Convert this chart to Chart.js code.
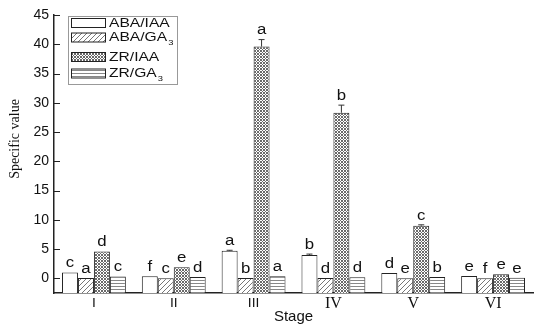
<!DOCTYPE html>
<html>
<head>
<meta charset="utf-8">
<script src="https://cdn.jsdelivr.net/npm/chart.js@4"></script>
<style>
  body { margin: 0; background: #fff; }
  #wrap { width: 550px; height: 330px; }
</style>
</head>
<body>
<div id="wrap"><canvas id="myChart"></canvas></div>
<script>
var stages = ["I", "II", "III", "IV", "V", "VI"]
var seriesNames = ["ABA/IAA", "ABA/GA3", "ZR/IAA", "ZR/GA3"]

var abaIaa = [1.0, 0.35, 4.7, 4.0, 0.9, 0.4]
var abaGa3 = [0.05, 0.04, 0.05, 0.05, 0.04, 0.03]
var zrIaa = [4.6, 1.9, 39.6, 28.3, 9.0, 0.7]
var zrGa3 = [0.3, 0.25, 0.35, 0.2, 0.25, 0.1]

var abaIaaErr = [0, 0, 0.1, 0.15, 0, 0]
var abaGa3Err = [0, 0, 0, 0, 0, 0]
var zrIaaErr = [0, 0, 1.2, 1.3, 0.15, 0]
var zrGa3Err = [0, 0, 0, 0, 0, 0]

var abaIaaSig = ["c", "f", "a", "b", "d", "e"]
var abaGa3Sig = ["a", "c", "b", "d", "e", "f"]
var zrIaaSig = ["d", "e", "a", "b", "c", "e"]
var zrGa3Sig = ["c", "d", "a", "d", "b", "e"]

var yTicks = [0, 5, 10, 15, 20, 25, 30, 35, 40, 45]
var yMin = -2.5
var yMax = 45

var sans = "'Liberation Sans', Arial, sans-serif"
var plainSans = "'DejaVu Sans', sans-serif"
var serif = "'Liberation Serif', 'Times New Roman', serif"

// fill patterns like the original figure
function makePattern(w, h, drawTile) {
    var c = document.createElement("canvas")
    c.width = w
    c.height = h
    var g = c.getContext("2d")
    g.fillStyle = "#fff"
    g.fillRect(0, 0, w, h)
    drawTile(g)
    return g.createPattern(c, "repeat")
}

var plainFill = "#ffffff"
var hatchFill = makePattern(5, 5, function (g) {
    g.strokeStyle = "#777"
    g.lineWidth = 1
    g.beginPath()
    g.moveTo(0, 5); g.lineTo(5, 0)
    g.moveTo(-1, 1); g.lineTo(1, -1)
    g.moveTo(4, 6); g.lineTo(6, 4)
    g.stroke()
})
var crossFill = makePattern(3, 3, function (g) {
    g.fillStyle = "#6a6a6a"
    g.fillRect(0, 0, 1, 1)
    g.fillRect(2, 0, 1, 1)
    g.fillRect(1, 1, 1, 1)
    g.fillRect(0, 2, 1, 1)
    g.fillRect(2, 2, 1, 1)
})
var lineFill = makePattern(1, 3, function (g) {
    g.fillStyle = "#888"
    g.fillRect(0, 1, 1, 1)
})

var fills = [plainFill, hatchFill, crossFill, lineFill]
var values = [abaIaa, abaGa3, zrIaa, zrGa3]
var errors = [abaIaaErr, abaGa3Err, zrIaaErr, zrGa3Err]
var sigs = [abaIaaSig, abaGa3Sig, zrIaaSig, zrGa3Sig]

var datasets = []
for (let i = 0; i < seriesNames.length; i++) {
    datasets.push({
        label: seriesNames[i],
        data: values[i],
        base: yMin,
        backgroundColor: fills[i],
        borderColor: "#222",
        borderWidth: 1,
        categoryPercentage: 0.8,
        barPercentage: 1.0
    })
}

// draw text, turning a trailing "3" after GA into a subscript
function drawLabel(ctx, text, x, y, size) {
    ctx.save()
    ctx.translate(x, y)
    ctx.scale(1.2, 1)
    ctx.font = size + "px " + sans
    ctx.textBaseline = "middle"
    ctx.textAlign = "left"
    ctx.fillStyle = "#111"
    if (text.endsWith("GA3")) {
        var main = text.slice(0, -1)
        ctx.fillText(main, 0, 0)
        var w = ctx.measureText(main).width
        ctx.font = (size * 0.6) + "px " + sans
        ctx.fillText("3", w + 1, 5)
    } else {
        ctx.fillText(text, 0, 0)
    }
    ctx.restore()
}

var extras = {
    id: "extras",
    afterDatasetsDraw(chart) {
        var ctx = chart.ctx
        var ys = chart.scales.y
        var xs = chart.scales.x
        var area = chart.chartArea

        // error bars + significance letters
        for (let i = 0; i < values.length; i++) {
            var meta = chart.getDatasetMeta(i)
            for (let j = 0; j < values[i].length; j++) {
                var el = meta.data[j]
                var top = el.y
                if (errors[i][j] > 0) {
                    var yErr = ys.getPixelForValue(values[i][j] + errors[i][j])
                    ctx.save()
                    ctx.strokeStyle = "#333"
                    ctx.lineWidth = 1
                    ctx.beginPath()
                    ctx.moveTo(el.x, top)
                    ctx.lineTo(el.x, yErr)
                    ctx.moveTo(el.x - 3, yErr)
                    ctx.lineTo(el.x + 3, yErr)
                    ctx.stroke()
                    ctx.restore()
                    top = yErr
                }
                ctx.save()
                ctx.translate(el.x, top - 2)
                ctx.scale(1.2, 1)
                ctx.font = "14px " + sans
                ctx.textAlign = "center"
                ctx.textBaseline = "bottom"
                ctx.fillStyle = "#111"
                ctx.fillText(sigs[i][j], 0, 0)
                ctx.restore()
            }
        }

        // stage labels: first three plain sans, last three serif as in the figure
        ctx.save()
        ctx.fillStyle = "#111"
        ctx.textAlign = "center"
        ctx.textBaseline = "middle"
        for (let j = 0; j < stages.length; j++) {
            ctx.font = j >= 3 ? "16px " + serif : "13px " + plainSans
            ctx.fillText(stages[j], xs.getPixelForValue(j), area.bottom + 11)
        }
        ctx.restore()

        // inward y ticks
        ctx.save()
        ctx.strokeStyle = "#222"
        ctx.lineWidth = 1
        ctx.beginPath()
        for (let k = 0; k < yTicks.length; k++) {
            var py = Math.round(ys.getPixelForValue(yTicks[k])) + 0.5
            ctx.moveTo(area.left, py)
            ctx.lineTo(area.left + 6, py)
        }
        ctx.stroke()
        ctx.restore()

        // legend box
        var lx = 68, ly = 16, lw = 109, lh = 68
        ctx.save()
        ctx.fillStyle = "#fff"
        ctx.fillRect(lx, ly, lw, lh)
        ctx.strokeStyle = "#999"
        ctx.lineWidth = 1
        ctx.strokeRect(lx + 0.5, ly + 0.5, lw, lh)
        var rows = [23, 37.5, 57, 73.5]
        for (let i = 0; i < seriesNames.length; i++) {
            ctx.fillStyle = fills[i]
            ctx.fillRect(71, rows[i] - 4.5, 34, 9)
            ctx.strokeStyle = "#222"
            ctx.strokeRect(71.5, rows[i] - 4.5, 34, 9)
            drawLabel(ctx, seriesNames[i], 109, rows[i], 13)
        }
        ctx.restore()

        // y axis title
        ctx.save()
        ctx.translate(15, 139)
        ctx.rotate(-Math.PI / 2)
        ctx.font = "14px " + serif
        ctx.textAlign = "center"
        ctx.textBaseline = "middle"
        ctx.fillStyle = "#111"
        ctx.fillText("Specific value", 0, 0)
        ctx.restore()
    }
}

new Chart("myChart", {
    type: "bar",
    data: {
        labels: stages,
        datasets: datasets
    },
    options: {
        responsive: true,
        maintainAspectRatio: false,
        animation: false,
        layout: { padding: { top: 15, right: 17, left: 0, bottom: 0 } },
        plugins: {
            legend: { display: false },
            tooltip: { enabled: false }
        },
        scales: {
            x: {
                offset: true,
                grid: { display: false, drawTicks: false },
                border: { display: true, color: "#222", width: 1.5 },
                ticks: { display: false },
                title: {
                    display: true,
                    text: "Stage",
                    color: "#111",
                    font: { family: sans, size: 15 },
                    padding: { top: 0, bottom: 4 }
                },
                afterFit: function (s) { s.height = 37 }
            },
            y: {
                min: yMin,
                max: yMax,
                grid: { display: false, drawTicks: false },
                border: { display: true, color: "#222", width: 1.5 },
                ticks: {
                    color: "#111",
                    padding: 5,
                    font: { family: sans, size: 14 }
                },
                afterBuildTicks: function (s) {
                    s.ticks = yTicks.map(function (v) { return { value: v } })
                },
                afterFit: function (s) { s.width = 54 }
            }
        }
    },
    plugins: [extras]
})
</script>
</body>
</html>
